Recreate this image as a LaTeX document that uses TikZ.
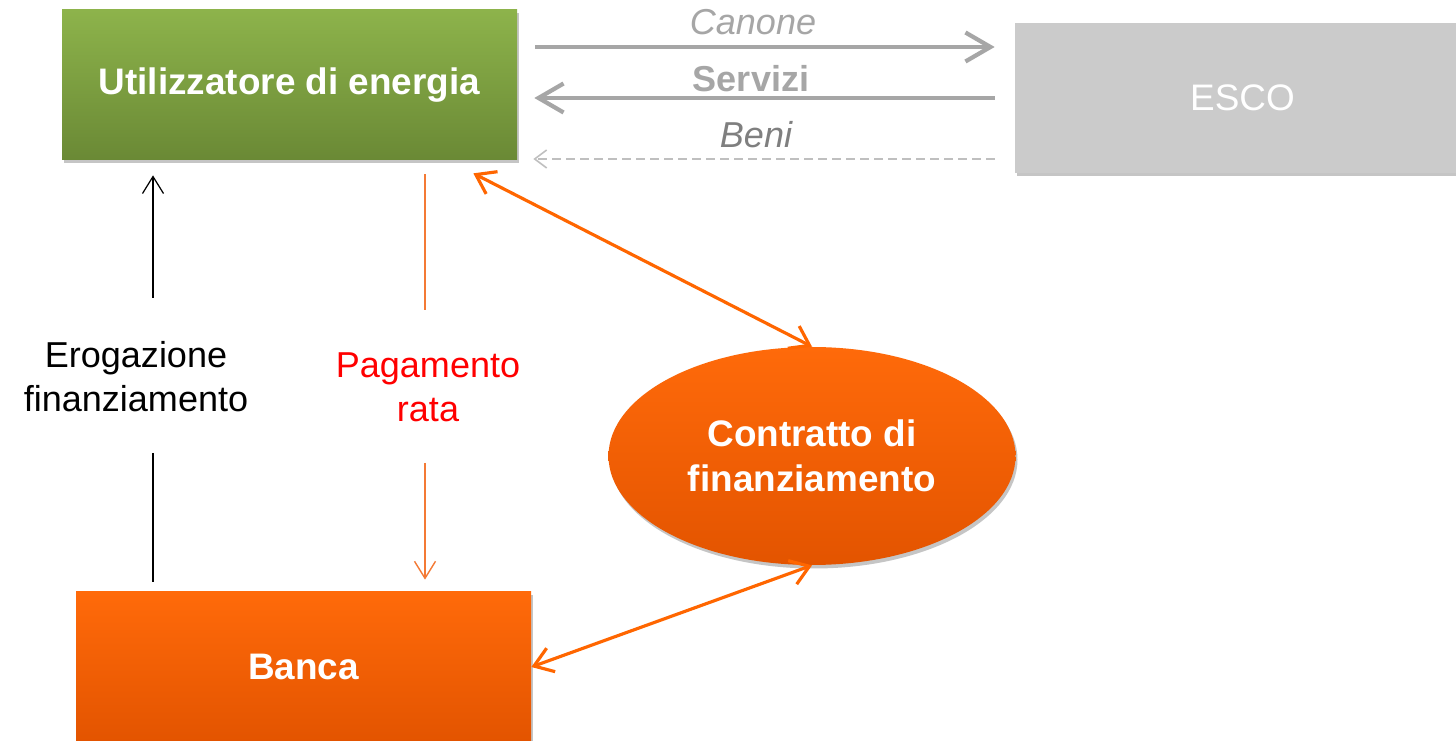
\documentclass[tikz,border=0pt]{standalone}
\usepackage{fontspec}
\setmainfont{Liberation Sans}
\usetikzlibrary{arrows.meta,shapes.geometric,shadows}
\definecolor{verdeA}{HTML}{8DB34B}
\definecolor{verdeB}{HTML}{6A8935}
\definecolor{aranA}{HTML}{FF6A0A}
\definecolor{aranB}{HTML}{E35400}
\definecolor{grigioBox}{HTML}{CBCBCB}
\definecolor{grigioFreccia}{HTML}{A6A6A6}
\definecolor{grigioTesto}{HTML}{7F7F7F}
\definecolor{grigioTratto}{HTML}{BFBFBF}
\definecolor{aranLinea}{HTML}{F47A35}
\definecolor{aranFreccia}{HTML}{FF6600}
\begin{document}
\begin{tikzpicture}[
	testo/.style = {font=\fontsize{20.5}{25}\selectfont, align=center},
	blocco/.style = {rectangle, minimum width=9.1cm, minimum height=3cm, text=white,
		font=\bfseries\fontsize{21}{25}\selectfont,
		drop shadow={opacity=.45, shadow xshift=.04cm, shadow yshift=-.07cm}},
	ellisse/.style = {ellipse, minimum width=8.14cm, minimum height=4.36cm, inner sep=0pt,
		top color=aranA, bottom color=aranB, text=white, align=center,
		font=\bfseries\fontsize{21}{25.5}\selectfont,
		drop shadow={opacity=.45, shadow xshift=.04cm, shadow yshift=-.07cm}},
	grossa/.style = {line width=2.4pt, grigioFreccia, -{Straight Barb[length=.5cm, width=.58cm]}},
	tratteggio/.style = {line width=.9pt, grigioTratto, dash pattern=on .18cm off .1cm,
		-{Straight Barb[length=.24cm, width=.36cm]}},
	sottile/.style = {line width=.7pt, black},
	lineaRata/.style = {line width=.8pt, aranLinea},
	punta/.style = {-{Straight Barb[length=.34cm, width=.42cm]}},
	doppia/.style = {line width=1.8pt, aranFreccia,
		{Straight Barb[length=.36cm, width=.5cm]}-{Straight Barb[length=.36cm, width=.5cm]}}
]
	\path [fill=white] (0, 0) rectangle (29.12, -14.82);
	\useasboundingbox (0, 0) rectangle (29.12, -14.82);

	% blocchi
	\node [blocco, top color=verdeA, bottom color=verdeB] (utente) at (5.79, -1.70) {Utilizzatore di energia};
	\node [blocco, fill=grigioBox, font=\fontsize{21}{25}\selectfont] (esco) at (24.85, -1.96) {ESCO};
	\node [blocco, top color=aranA, bottom color=aranB] (banca) at (6.07, -13.34) {Banca};
	\node [ellisse] (contratto) at (16.24, -9.12) {Contratto di\\finanziamento};

	% etichette
	\node [testo, text=grigioFreccia, font=\itshape\fontsize{20.5}{25}\selectfont] (canone) at (15.06, -.45) {Canone};
	\node [testo, text=grigioFreccia, font=\bfseries\fontsize{20.5}{25}\selectfont] (servizi) at (15.02, -1.58) {Servizi};
	\node [testo, text=grigioTesto, font=\itshape\fontsize{20.5}{25}\selectfont] (beni) at (15.12, -2.70) {Beni};
	\node [testo] (erogazione) at (2.72, -7.54) {Erogazione\\finanziamento};
	\node [testo, text=red] (rata) at (8.56, -7.75) {Pagamento\\rata};

	% frecce ESCO
	\draw [grossa, shorten <=.36cm, shorten >=.4cm] ([yshift=.76cm]utente.east) -- ([yshift=.76cm]utente.east -| esco.west);
	\draw [grossa, shorten <=.4cm, shorten >=.34cm] (esco.west) -- (esco.west -| utente.east);
	\draw [tratteggio, shorten <=.4cm, shorten >=.32cm] ([yshift=-1.22cm]esco.west) -- ([yshift=-1.22cm]esco.west -| utente.east);

	% erogazione
	\coordinate (erogSu) at (3.06, -5.96);
	\coordinate (erogGiu) at (3.06, -9.06);
	\draw [sottile, punta, shorten >=.3cm] (erogSu) -- (erogSu |- utente.south);
	\draw [sottile, shorten >=.2cm] (erogGiu) -- (erogGiu |- banca.north);

	% pagamento rata
	\coordinate (rataSu) at (8.5, -6.2);
	\coordinate (rataGiu) at (8.5, -9.26);
	\draw [lineaRata, shorten <=.28cm] (rataSu |- utente.south) -- (rataSu);
	\draw [lineaRata, punta, shorten >=.24cm] (rataGiu) -- (rataGiu |- banca.north);

	% contratto
	\draw [doppia] ([shift={(-.88, -.26)}]utente.south east) -- (contratto.north);
	\draw [doppia] (banca.east) -- (contratto.south);
\end{tikzpicture}
\end{document}
